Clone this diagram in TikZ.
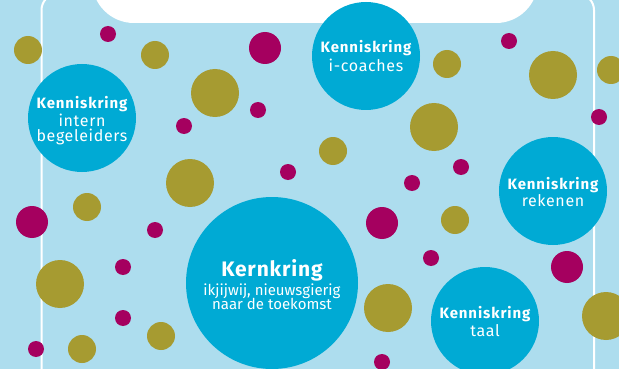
\documentclass[tikz,border=0pt]{standalone}
\usepackage{fontspec}
\setmainfont{Fira Sans}
\newfontfamily\titlefont[LetterSpace=6]{Fira Sans}
\newfontfamily\subfont[LetterSpace=4]{Fira Sans}
\newfontfamily\kerntfont[LetterSpace=4]{Fira Sans}
\definecolor{bg}{HTML}{ADDDEE}
\definecolor{kring}{HTML}{00AAD4}
\definecolor{olive}{HTML}{A69B31}
\definecolor{mag}{HTML}{A5005F}
\begin{document}
\begin{tikzpicture}[x=1pt,y=-1pt,
  kring/.style={circle,fill=kring,inner sep=0pt,minimum size=#1},
  ktitle/.style={anchor=base,text=white,inner sep=0pt,font=\titlefont\fontsize{15}{17}\selectfont\bfseries},
  ksub/.style={anchor=base,text=white,inner sep=0pt,font=\subfont\fontsize{16}{18}\selectfont},
  kerntitle/.style={anchor=base,text=white,inner sep=0pt,font=\kerntfont\fontsize{21}{23}\selectfont\bfseries},
  kernsub/.style={anchor=base,text=white,inner sep=0pt,font=\fontsize{15}{17}\selectfont},
  od/.style={fill=olive},
  md/.style={fill=mag}]
\fill[bg] (0,0) rectangle (619,369);
\useasboundingbox (0,0) rectangle (619,369);
% frame
\draw[white,line width=2pt,rounded corners=16pt] (41.5,380) -- (41.5,-6) -- (594,-6) -- (594,380);
% top white box
\fill[white,rounded corners=42pt] (92,-90) rectangle (538,23);
% olive dots
\foreach \x/\y/\r in {28/50/14,155/55/14,215/93/24,447/64/14,553/75/24,611/70/14,
  434/127/24,333/151/14,190/183/24,87/207/14,60/284/24,161/336/14,82/349/14,
  455/220/14,388/308/24,606/316/24}
  \fill[od] (\x,\y) circle (\r);
% magenta dots
\foreach \x/\y/\r in {108/34/8,265/48/16,258/110/8,184/126/8,288/172/8,509/41/8,
  599/117/8,461/167/8,412/183/8,32/222/16,155/230/8,123/267/8,123/318/8,36/349/8,
  382/223/16,431/258/8,567/267/16,382/362/8}
  \fill[md] (\x,\y) circle (\r);
% knowledge circles
\node[kring=108pt] (ib) at (82,118) {};
\node[kring=108pt] (ic) at (366,56) {};
\node[kring=108pt] (rk) at (553,191) {};
\node[kring=108pt] (tl) at (485,321) {};
\node[kring=172pt] (kk) at (272,283) {};
% texts
\node[ktitle] (ib1) at (82,109) {Kenniskring};
\node[ksub] (ib2) at (82,126) {intern};
\node[ksub] (ib3) at (82,142) {begeleiders};
\node[ktitle] (ic1) at (366,53) {Kenniskring};
\node[ksub] (ic2) at (366,72) {i-coaches};
\node[ktitle] (rk1) at (553,189) {Kenniskring};
\node[ksub] (rk2) at (553,206) {rekenen};
\node[ktitle] (tl1) at (485,318) {Kenniskring};
\node[ksub] (tl2) at (485,336) {taal};
\node[kerntitle] (kk1) at (272,276.5) {Kernkring};
\node[kernsub] (kk2) at (272,295) {ikjijwij, nieuwsgierig};
\node[kernsub] (kk3) at (272,309.5) {naar de toekomst};
\end{tikzpicture}
\end{document}
